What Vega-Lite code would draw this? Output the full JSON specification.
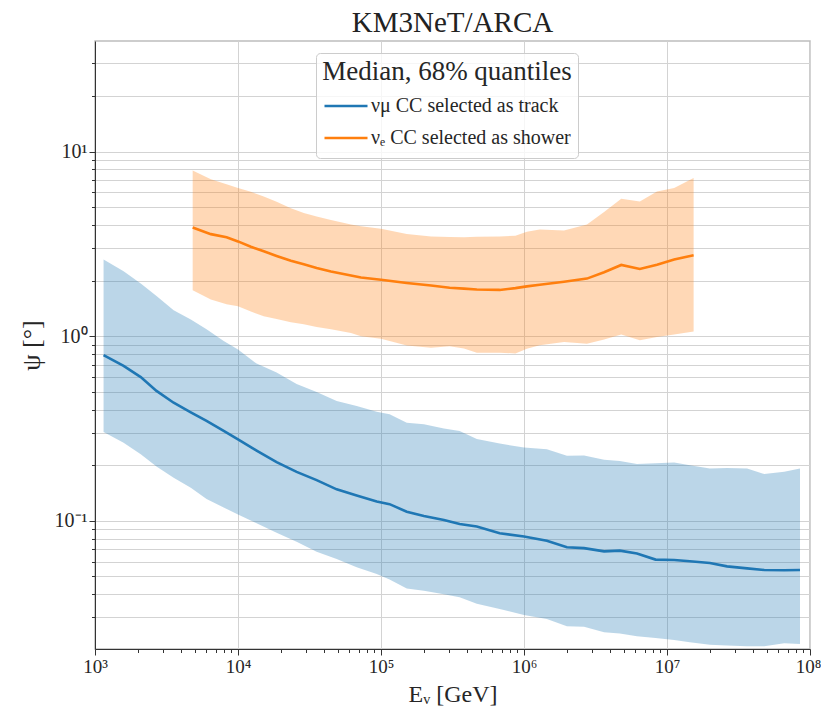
{
  "$schema": "https://vega.github.io/schema/vega-lite/v6.json",
  "width": 715,
  "height": 608,
  "autosize": {"type": "none"},
  "padding": {"left": 95, "top": 41, "right": 11, "bottom": 64},
  "background": "white",
  "title": {"text": "KM3NeT/ARCA", "font": "Liberation Serif", "fontSize": 29, "fontWeight": "normal", "color": "#222222", "offset": 3, "anchor": "middle"},
  "config": {
    "view": {"stroke": "#bdbdbd", "strokeWidth": 1.5},
    "font": "Liberation Serif",
    "legend": {"labelFont": "Liberation Serif, serif", "titleFont": "Liberation Serif, serif", "labelLimit": 400, "titleLimit": 400}
  },
  "data": {"values": [
    {"s": "νμ CC selected as track", "E": 1148, "lo": 0.303, "med": 0.79, "hi": 2.6},
    {"s": "νμ CC selected as track", "E": 1585, "lo": 0.265, "med": 0.69, "hi": 2.25},
    {"s": "νμ CC selected as track", "E": 2089, "lo": 0.229, "med": 0.60, "hi": 1.93},
    {"s": "νμ CC selected as track", "E": 2692, "lo": 0.197, "med": 0.505, "hi": 1.65},
    {"s": "νμ CC selected as track", "E": 3548, "lo": 0.171, "med": 0.436, "hi": 1.38},
    {"s": "νμ CC selected as track", "E": 4677, "lo": 0.151, "med": 0.387, "hi": 1.23},
    {"s": "νμ CC selected as track", "E": 6026, "lo": 0.131, "med": 0.348, "hi": 1.09},
    {"s": "νμ CC selected as track", "E": 7943, "lo": 0.118, "med": 0.307, "hi": 0.94},
    {"s": "νμ CC selected as track", "E": 10000, "lo": 0.108, "med": 0.276, "hi": 0.847},
    {"s": "νμ CC selected as track", "E": 13490, "lo": 0.097, "med": 0.240, "hi": 0.71},
    {"s": "νμ CC selected as track", "E": 18620, "lo": 0.086, "med": 0.208, "hi": 0.635},
    {"s": "νμ CC selected as track", "E": 25700, "lo": 0.077, "med": 0.184, "hi": 0.55},
    {"s": "νμ CC selected as track", "E": 35480, "lo": 0.068, "med": 0.166, "hi": 0.498},
    {"s": "νμ CC selected as track", "E": 48980, "lo": 0.062, "med": 0.148, "hi": 0.445},
    {"s": "νμ CC selected as track", "E": 67610, "lo": 0.056, "med": 0.137, "hi": 0.418},
    {"s": "νμ CC selected as track", "E": 93330, "lo": 0.0515, "med": 0.127, "hi": 0.389},
    {"s": "νμ CC selected as track", "E": 114800, "lo": 0.048, "med": 0.123, "hi": 0.377},
    {"s": "νμ CC selected as track", "E": 151400, "lo": 0.043, "med": 0.112, "hi": 0.340},
    {"s": "νμ CC selected as track", "E": 199500, "lo": 0.0418, "med": 0.106, "hi": 0.333},
    {"s": "νμ CC selected as track", "E": 275400, "lo": 0.040, "med": 0.101, "hi": 0.316},
    {"s": "νμ CC selected as track", "E": 354800, "lo": 0.0385, "med": 0.096, "hi": 0.306},
    {"s": "νμ CC selected as track", "E": 467700, "lo": 0.0355, "med": 0.093, "hi": 0.277},
    {"s": "νμ CC selected as track", "E": 676100, "lo": 0.0333, "med": 0.0855, "hi": 0.262},
    {"s": "νμ CC selected as track", "E": 1000000, "lo": 0.0309, "med": 0.0822, "hi": 0.249},
    {"s": "νμ CC selected as track", "E": 1445000, "lo": 0.0294, "med": 0.078, "hi": 0.244},
    {"s": "νμ CC selected as track", "E": 1995000, "lo": 0.0268, "med": 0.0718, "hi": 0.225},
    {"s": "νμ CC selected as track", "E": 2630000, "lo": 0.0267, "med": 0.0711, "hi": 0.226},
    {"s": "νμ CC selected as track", "E": 3631000, "lo": 0.0249, "med": 0.0683, "hi": 0.214},
    {"s": "νμ CC selected as track", "E": 4677000, "lo": 0.0245, "med": 0.0689, "hi": 0.211},
    {"s": "νμ CC selected as track", "E": 6166000, "lo": 0.0237, "med": 0.0665, "hi": 0.203},
    {"s": "νμ CC selected as track", "E": 8318000, "lo": 0.0232, "med": 0.0616, "hi": 0.205},
    {"s": "νμ CC selected as track", "E": 11220000, "lo": 0.0226, "med": 0.0613, "hi": 0.207},
    {"s": "νμ CC selected as track", "E": 14450000, "lo": 0.0220, "med": 0.0603, "hi": 0.200},
    {"s": "νμ CC selected as track", "E": 19950000, "lo": 0.0213, "med": 0.0591, "hi": 0.192},
    {"s": "νμ CC selected as track", "E": 26300000, "lo": 0.0211, "med": 0.0566, "hi": 0.193},
    {"s": "νμ CC selected as track", "E": 36310000, "lo": 0.0209, "med": 0.0552, "hi": 0.192},
    {"s": "νμ CC selected as track", "E": 47860000, "lo": 0.0209, "med": 0.0541, "hi": 0.179},
    {"s": "νμ CC selected as track", "E": 66070000, "lo": 0.0217, "med": 0.0539, "hi": 0.184},
    {"s": "νμ CC selected as track", "E": 85110000, "lo": 0.0215, "med": 0.0541, "hi": 0.192},
    {"s": "νₑ CC selected as shower", "E": 4820, "lo": 1.77, "med": 3.88, "hi": 7.9},
    {"s": "νₑ CC selected as shower", "E": 6457, "lo": 1.58, "med": 3.57, "hi": 7.08},
    {"s": "νₑ CC selected as shower", "E": 8318, "lo": 1.49, "med": 3.43, "hi": 6.65},
    {"s": "νₑ CC selected as shower", "E": 10000, "lo": 1.45, "med": 3.26, "hi": 6.35},
    {"s": "νₑ CC selected as shower", "E": 12300, "lo": 1.36, "med": 3.05, "hi": 6.06},
    {"s": "νₑ CC selected as shower", "E": 15140, "lo": 1.28, "med": 2.88, "hi": 5.7},
    {"s": "νₑ CC selected as shower", "E": 18620, "lo": 1.24, "med": 2.72, "hi": 5.35},
    {"s": "νₑ CC selected as shower", "E": 23440, "lo": 1.19, "med": 2.56, "hi": 4.93},
    {"s": "νₑ CC selected as shower", "E": 28840, "lo": 1.16, "med": 2.45, "hi": 4.65},
    {"s": "νₑ CC selected as shower", "E": 35480, "lo": 1.12, "med": 2.34, "hi": 4.45},
    {"s": "νₑ CC selected as shower", "E": 44670, "lo": 1.09, "med": 2.24, "hi": 4.26},
    {"s": "νₑ CC selected as shower", "E": 61660, "lo": 1.04, "med": 2.13, "hi": 4.02},
    {"s": "νₑ CC selected as shower", "E": 72440, "lo": 1.0, "med": 2.08, "hi": 3.94},
    {"s": "νₑ CC selected as shower", "E": 100000, "lo": 0.968, "med": 2.02, "hi": 3.82},
    {"s": "νₑ CC selected as shower", "E": 151400, "lo": 0.89, "med": 1.94, "hi": 3.57},
    {"s": "νₑ CC selected as shower", "E": 223900, "lo": 0.865, "med": 1.88, "hi": 3.47},
    {"s": "νₑ CC selected as shower", "E": 302000, "lo": 0.883, "med": 1.83, "hi": 3.44},
    {"s": "νₑ CC selected as shower", "E": 380200, "lo": 0.857, "med": 1.81, "hi": 3.43},
    {"s": "νₑ CC selected as shower", "E": 467700, "lo": 0.813, "med": 1.79, "hi": 3.45},
    {"s": "νₑ CC selected as shower", "E": 676100, "lo": 0.813, "med": 1.78, "hi": 3.47},
    {"s": "νₑ CC selected as shower", "E": 871000, "lo": 0.806, "med": 1.82, "hi": 3.50},
    {"s": "νₑ CC selected as shower", "E": 1047000, "lo": 0.855, "med": 1.86, "hi": 3.68},
    {"s": "νₑ CC selected as shower", "E": 1288000, "lo": 0.894, "med": 1.90, "hi": 3.78},
    {"s": "νₑ CC selected as shower", "E": 1905000, "lo": 0.93, "med": 1.97, "hi": 3.74},
    {"s": "νₑ CC selected as shower", "E": 2754000, "lo": 0.91, "med": 2.05, "hi": 4.02},
    {"s": "νₑ CC selected as shower", "E": 3631000, "lo": 0.96, "med": 2.22, "hi": 4.7},
    {"s": "νₑ CC selected as shower", "E": 4786000, "lo": 1.02, "med": 2.43, "hi": 5.55},
    {"s": "νₑ CC selected as shower", "E": 6457000, "lo": 0.95, "med": 2.31, "hi": 5.37},
    {"s": "νₑ CC selected as shower", "E": 8511000, "lo": 0.99, "med": 2.44, "hi": 6.08},
    {"s": "νₑ CC selected as shower", "E": 11220000, "lo": 1.02, "med": 2.60, "hi": 6.34},
    {"s": "νₑ CC selected as shower", "E": 15350000, "lo": 1.06, "med": 2.74, "hi": 7.18}
  ]},
  "layer": [
    {
      "mark": {"type": "area", "opacity": 0.3, "clip": true},
      "encoding": {
        "x": {
          "field": "E", "type": "quantitative",
          "scale": {"type": "log", "domain": [1000, 100000000], "nice": false},
          "axis": {
            "values": [1000, 2000, 3000, 4000, 5000, 6000, 7000, 8000, 9000, 10000, 20000, 30000, 40000, 50000, 60000, 70000, 80000, 90000, 100000, 200000, 300000, 400000, 500000, 600000, 700000, 800000, 900000, 1000000, 2000000, 3000000, 4000000, 5000000, 6000000, 7000000, 8000000, 9000000, 10000000, 20000000, 30000000, 40000000, 50000000, 60000000, 70000000, 80000000, 90000000, 100000000],
            "labelExpr": "datum.value == 1000 ? '10³' : datum.value == 10000 ? '10⁴' : datum.value == 100000 ? '10⁵' : datum.value == 1000000 ? '10⁶' : datum.value == 10000000 ? '10⁷' : datum.value == 100000000 ? '10⁸' : ''",
            "labelOverlap": false, "labelBound": false, "labelFlush": false,
            "labelFont": "Liberation Serif", "labelFontSize": 19, "labelColor": "#262626", "labelPadding": 2,
            "labelOffset": {"condition": {"test": "datum.value == 100000000", "value": -2}, "value": 0},
            "tickSize": {"condition": {"test": "indexof([1000,10000,100000,1000000,10000000,100000000], datum.value) >= 0", "value": 6}, "value": 3.5},
            "tickColor": "#333333",
            "domainColor": "#333333",
            "grid": true,
            "gridColor": "#d3d3d3",
            "gridOpacity": {"condition": {"test": "indexof([1000,10000,100000,1000000,10000000,100000000], datum.value) >= 0", "value": 1}, "value": 0},
            "title": "Eᵥ [GeV]", "titleFont": "Liberation Serif", "titleFontSize": 24, "titleFontWeight": "normal", "titleColor": "#262626", "titlePadding": 6
          }
        },
        "y": {
          "field": "lo", "type": "quantitative",
          "scale": {"type": "log", "domain": [0.0202, 39.7], "nice": false},
          "axis": {
            "values": [0.03, 0.04, 0.05, 0.06, 0.07, 0.08, 0.09, 0.1, 0.2, 0.3, 0.4, 0.5, 0.6, 0.7, 0.8, 0.9, 1, 2, 3, 4, 5, 6, 7, 8, 9, 10, 20, 30],
            "labelExpr": "datum.value == 0.1 ? '10⁻¹' : datum.value == 1 ? '10⁰' : datum.value == 10 ? '10¹' : ''",
            "labelOverlap": false, "labelBound": false, "labelFlush": false,
            "labelFont": "Liberation Serif", "labelFontSize": 20, "labelColor": "#262626", "labelPadding": 2,
            "tickSize": {"condition": {"test": "datum.value == 0.1 || datum.value == 1 || datum.value == 10", "value": 6}, "value": 3.5},
            "tickColor": "#333333",
            "domainColor": "#333333",
            "grid": true,
            "gridColor": "#d3d3d3",
            "title": "ψ [°]", "titleFont": "Liberation Serif", "titleFontSize": 26, "titleFontWeight": "normal", "titleColor": "#262626", "titlePadding": 10
          }
        },
        "y2": {"field": "hi"},
        "fill": {
          "field": "s", "type": "nominal",
          "scale": {"domain": ["νₑ CC selected as shower", "νμ CC selected as track"], "range": ["#ff7f0e", "#1f77b4"]},
          "legend": null
        }
      }
    },
    {
      "mark": {"type": "line", "strokeWidth": 2.6, "clip": true},
      "encoding": {
        "x": {"field": "E", "type": "quantitative"},
        "y": {"field": "med", "type": "quantitative"},
        "stroke": {
          "field": "s", "type": "nominal",
          "scale": {"domain": ["νμ CC selected as track", "νₑ CC selected as shower"], "range": ["#1f77b4", "#ff7f0e"]},
          "legend": {
            "orient": "none", "legendX": 221, "legendY": 12,
            "title": "Median, 68% quantiles",
            "titleFont": "Liberation Serif, serif", "titleFontSize": 27, "titleFontWeight": "normal", "titleColor": "#262626",
            "titleAnchor": "middle", "titleAlign": "center", "titlePadding": 6, "titleLimit": 400,
            "labelFont": "Liberation Serif, serif", "labelFontSize": 20, "labelColor": "#262626", "labelOffset": 2, "labelLimit": 400,
            "symbolType": "stroke", "symbolSize": 1849, "symbolStrokeWidth": 2.6,
            "clipHeight": 28, "rowPadding": 4, "padding": 6,
            "fillColor": "rgba(255,255,255,0.8)", "strokeColor": "#cccccc", "cornerRadius": 4
          }
        }
      }
    }
  ]
}
